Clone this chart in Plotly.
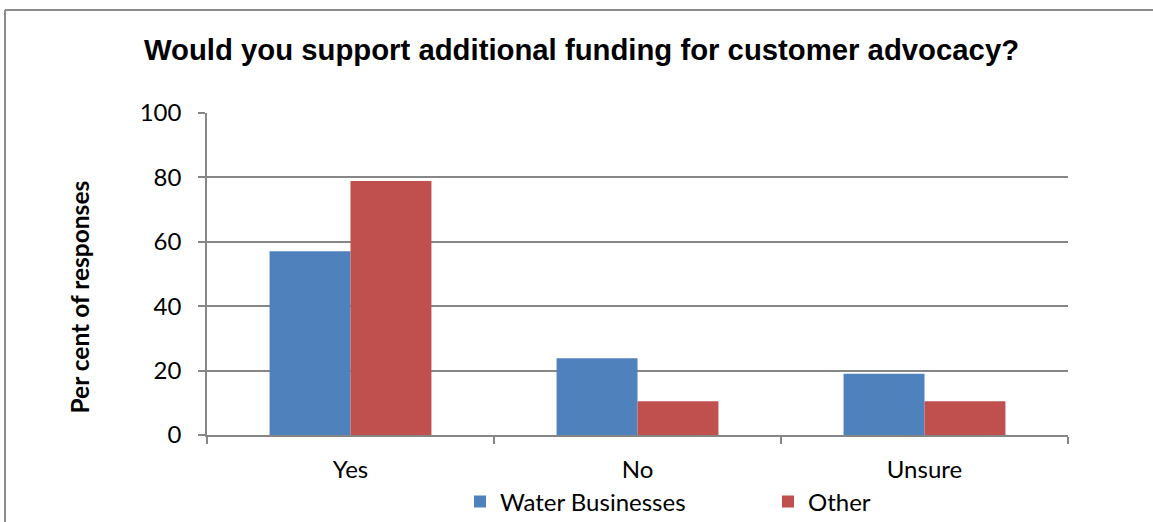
import plotly.graph_objects as go

# Survey responses (per cent)
categories = ["Yes", "No", "Unsure"]
water_businesses = [57.1, 23.8, 19.0]
other = [78.9, 10.5, 10.5]
y_ticks = [0, 20, 40, 60, 80, 100]

W, H = 1153, 522
L, R, T, B = 207, 1068, 113, 435  # plot area edges in pixels


def px_x(x):
    return (x - L) / (R - L)


def px_y(y):
    return (B - y) / (B - T)


GRID = "#868686"
FONT = "Lato"
FS = 24

fig = go.Figure()
fig.add_trace(go.Bar(name="Water Businesses", x=categories, y=water_businesses,
                     marker=dict(color="#4F81BD", line=dict(width=0))))
fig.add_trace(go.Bar(name="Other", x=categories, y=other,
                     marker=dict(color="#C0504D", line=dict(width=0))))

fig.update_layout(
    width=W, height=H,
    margin=dict(l=L, r=W - R, t=T, b=H - B, pad=0, autoexpand=False),
    paper_bgcolor="white", plot_bgcolor="white",
    barmode="group", bargap=0.436, bargroupgap=0,
    font=dict(family=FONT, size=FS, color="black"),
    title=dict(text="<b>Would you support additional funding for customer advocacy?</b>",
               font=dict(family="Liberation Sans", size=29.3, color="black"),
               xref="container", yref="container",
               x=581.5 / W, y=1 - 50 / H, xanchor="center", yanchor="middle"),
    showlegend=True,
    legend=dict(orientation="h", x=px_x(460), y=px_y(502),
                xanchor="left", yanchor="middle",
                font=dict(family=FONT, size=FS, color="black"),
                entrywidth=263, entrywidthmode="pixels",
                bgcolor="rgba(0,0,0,0)", borderwidth=0, traceorder="normal"),
)

fig.update_xaxes(
    type="category", showgrid=False, zeroline=False,
    showline=True, linecolor=GRID, linewidth=1.5,
    ticks="outside", tickson="boundaries", ticklen=7, tickcolor=GRID, tickwidth=1.5,
    tickfont=dict(family=FONT, size=FS, color="black"),
    ticklabelstandoff=12,
)
fig.update_yaxes(
    range=[0, 100], tickvals=y_ticks, showgrid=True, gridcolor=GRID, gridwidth=1.5,
    zeroline=False, showline=True, linecolor=GRID, linewidth=1.5,
    ticks="outside", ticklen=7, tickcolor=GRID, tickwidth=1.5,
    tickfont=dict(family=FONT, size=FS, color="black"),
    ticklabelstandoff=12,
)

# Vertical axis title
fig.add_annotation(text="<b>Per cent of responses</b>", textangle=-90,
                   xref="paper", yref="paper", x=px_x(79), y=px_y(297.5),
                   xanchor="center", yanchor="middle", showarrow=False,
                   font=dict(family=FONT, size=24.5, color="black"))

# Chart frame (top and left edges)
frame = dict(color="#8C8C8C", width=2)
fig.add_shape(type="line", xref="paper", yref="paper",
              x0=px_x(5), x1=px_x(W), y0=px_y(10), y1=px_y(10), line=frame)
fig.add_shape(type="line", xref="paper", yref="paper",
              x0=px_x(5), x1=px_x(5), y0=px_y(10), y1=px_y(H), line=frame)

fig.write_html("out.html")
